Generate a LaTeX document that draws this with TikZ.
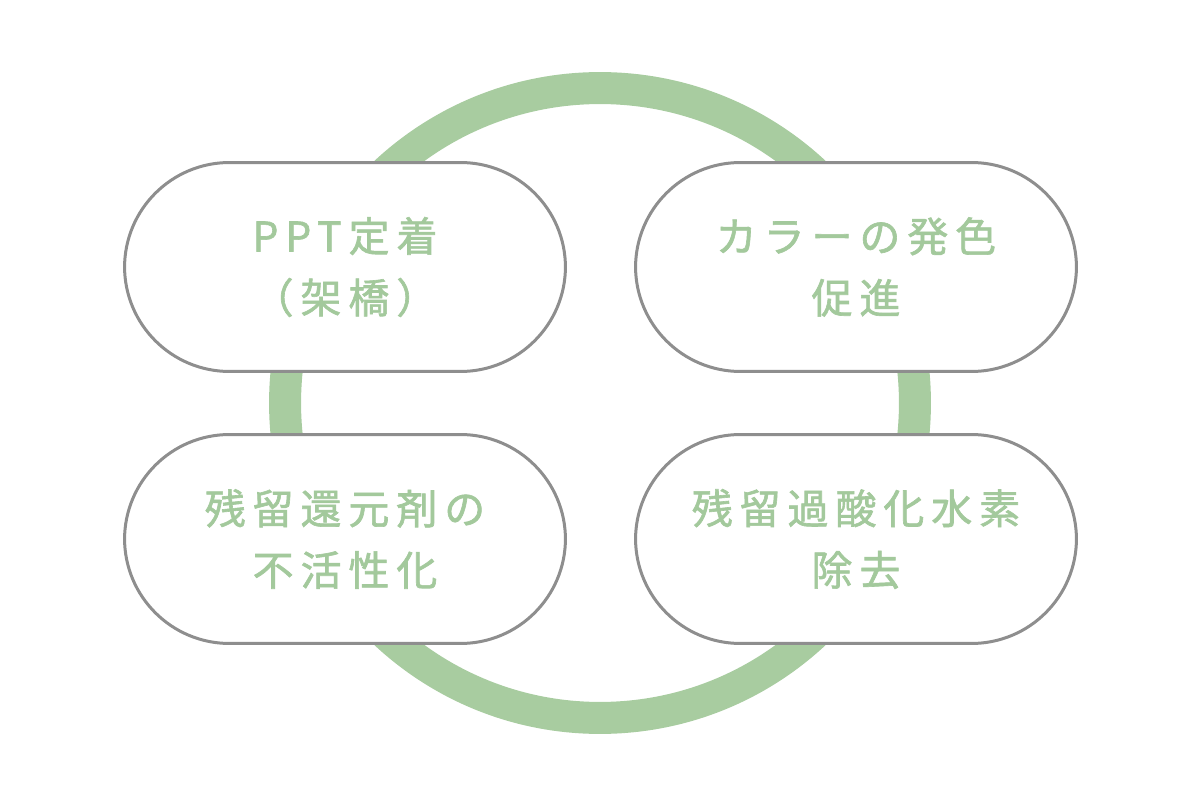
\documentclass[tikz,border=0pt]{standalone}
\usepackage{fontspec}
\newfontfamily\jpfont[LetterSpace=17,FakeBold=1.5]{Noto Sans CJK JP}
\definecolor{ringgreen}{HTML}{A8CCA0}
\definecolor{textgreen}{HTML}{A3C99C}
\definecolor{boxgray}{HTML}{8E8E8E}
\begin{document}
\begin{tikzpicture}[x=0.02cm,y=-0.02cm,
  pill/.style={draw=boxgray,line width=0.06cm,fill=white,rounded corners=2.1cm,
    minimum width=8.82cm,minimum height=4.18cm,inner sep=0pt,align=center,
    text=textgreen,font=\jpfont\fontsize{23.3pt}{35pt}\selectfont}]
\useasboundingbox (0,0) rectangle (1200,800);
\draw[ringgreen,line width=0.64cm] (600,403) circle[radius=6.3cm];
\node[pill] (fix) at (345,267) {PPT定着\\（架橋）};
\node[pill] (color) at (856,267) {カラーの発色\\促進};
\node[pill] (reduce) at (345,539) {残留還元剤の\\不活性化};
\node[pill] (peroxide) at (856,539) {残留過酸化水素\\除去};
\end{tikzpicture}
\end{document}
